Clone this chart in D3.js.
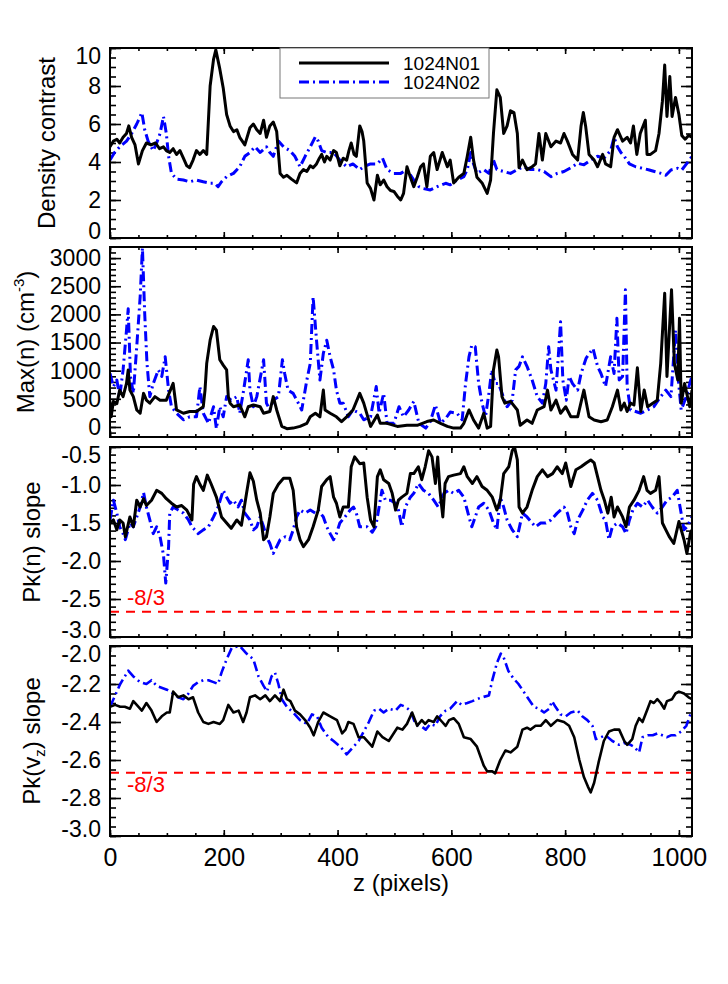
<!DOCTYPE html>
<html><head><meta charset="utf-8">
<script src="https://cdn.jsdelivr.net/npm/d3@7"></script>
<style>body{margin:0;background:#fff} text{font-family:"Liberation Sans",Arial,Helvetica,sans-serif}</style>
</head><body><svg id="c" width="728" height="984"></svg>
<script>
const seriesNames = ["1024N01","1024N02"];
const xTicks = [0,200,400,600,800,1000];
const densityTicks = [0,2,4,6,8,10];
const maxnTicks = [0,500,1000,1500,2000,2500,3000];
const pknTicks = [-3.0,-2.5,-2.0,-1.5,-1.0,-0.5];
const pkvTicks = [-3.0,-2.8,-2.6,-2.4,-2.2,-2.0];
const refSlope = -8/3;
const refLabel = "-8/3";

const density_N01 = [[0,4.8],[6,5.1],[12,5.2],[17,5.0],[23,5.3],[29,5.5],[33,5.9],[38,5.3],[44,4.9],[50,3.9],[57,4.6],[64,5.0],[72,4.9],[80,5.0],[87,4.7],[94,4.8],[99,4.6],[105,4.5],[111,4.7],[117,4.4],[123,4.6],[129,4.2],[135,3.8],[140,3.7],[146,4.1],[152,4.6],[158,4.4],[164,4.6],[170,4.4],[176,8.0],[182,9.4],[186,9.9],[193,8.9],[199,7.9],[205,6.5],[211,5.9],[217,5.6],[223,5.7],[228,5.3],[237,4.9],[246,5.8],[252,6.0],[258,5.7],[264,5.5],[270,6.2],[275,5.3],[281,5.9],[287,6.1],[293,5.6],[299,3.4],[305,3.2],[311,3.3],[319,3.1],[328,2.9],[334,3.4],[340,3.6],[346,3.5],[352,3.8],[357,3.7],[363,3.9],[368,4.2],[372,4.4],[377,4.0],[381,4.3],[387,4.1],[393,4.6],[398,4.5],[404,3.8],[410,4.2],[416,4.1],[420,4.6],[424,5.0],[429,4.4],[433,4.3],[439,5.9],[443,5.6],[446,5.1],[452,2.9],[458,2.6],[464,2.0],[470,3.3],[475,2.8],[481,3.05],[487,2.7],[493,2.5],[499,2.45],[505,2.2],[511,2.0],[516,2.35],[522,3.75],[528,3.2],[534,2.7],[540,3.2],[546,3.75],[551,3.9],[557,2.7],[563,4.3],[569,4.5],[575,3.6],[584,4.5],[593,3.75],[598,4.1],[604,2.9],[613,3.2],[622,3.4],[628,4.3],[634,5.3],[639,4.1],[645,3.2],[654,2.9],[663,2.35],[669,3.05],[674,5.5],[680,7.8],[686,7.4],[692,5.5],[698,5.9],[704,6.7],[710,6.6],[716,5.5],[719,3.7],[725,4.1],[733,3.6],[742,3.75],[748,3.9],[754,5.5],[760,4.1],[766,5.5],[775,4.8],[784,5.1],[792,5.0],[798,5.5],[804,5.1],[813,4.4],[822,4.1],[828,5.9],[832,6.6],[836,5.9],[842,4.4],[851,4.1],[857,3.75],[866,4.4],[871,3.9],[880,3.75],[886,5.3],[892,5.7],[901,5.1],[909,5.3],[915,5.0],[920,5.9],[926,4.4],[932,5.5],[941,6.2],[944,4.4],[950,4.4],[959,4.6],[965,5.5],[971,7.2],[975,9.1],[979,6.4],[984,8.5],[988,6.4],[994,7.4],[1000,6.5],[1005,5.4],[1011,5.2],[1017,5.4],[1023,5.3]];
const density_N02 = [[0,4.1],[8,4.5],[17,4.8],[29,5.1],[38,5.5],[47,6.0],[56,6.6],[61,5.7],[67,5.1],[76,4.6],[82,5.0],[88,5.5],[94,6.4],[99,5.5],[103,4.3],[108,3.4],[117,3.1],[129,3.05],[140,2.96],[152,3.05],[164,2.96],[176,2.88],[184,2.88],[190,2.7],[196,2.96],[205,3.23],[217,3.4],[228,3.75],[237,4.3],[246,4.5],[255,4.8],[264,4.5],[275,4.8],[281,4.5],[287,4.3],[296,5.1],[305,4.8],[316,4.6],[325,4.3],[334,3.75],[343,4.3],[352,4.8],[361,5.33],[366,5.1],[372,4.6],[381,4.5],[393,4.5],[404,4.1],[416,3.75],[427,3.9],[439,3.6],[446,3.75],[458,3.9],[470,3.9],[479,4.2],[487,3.6],[499,3.4],[511,3.4],[522,3.6],[534,3.05],[543,2.7],[551,2.6],[563,2.53],[575,2.7],[590,2.88],[598,2.8],[610,3.05],[622,3.23],[628,3.6],[634,4.5],[639,3.9],[645,3.4],[657,3.6],[666,3.4],[674,4.1],[680,3.6],[692,3.5],[704,3.4],[716,3.6],[727,3.75],[739,3.6],[751,3.6],[763,3.5],[775,3.23],[786,3.4],[798,3.5],[810,3.7],[822,3.93],[833,3.85],[845,4.1],[857,4.3],[868,4.2],[880,4.6],[886,5.3],[892,4.8],[898,4.5],[904,4.3],[913,3.9],[924,3.75],[936,3.67],[948,3.58],[957,3.5],[969,3.4],[977,3.3],[986,3.58],[998,3.67],[1005,3.58],[1014,3.93],[1023,4.3]];

const maxn_N01 = [[0,455],[2,181],[6,455],[12,413],[17,655],[23,539],[29,775],[32,1014],[35,655],[41,539],[47,302],[53,244],[59,597],[64,476],[70,423],[79,539],[88,476],[99,476],[111,775],[117,302],[129,244],[140,275],[152,275],[164,360],[167,655],[170,1130],[176,1541],[182,1784],[187,1720],[193,1193],[199,1098],[205,1014],[208,539],[211,423],[217,360],[228,391],[237,181],[243,360],[252,391],[264,360],[270,244],[281,275],[287,539],[293,302],[302,10],[311,-30],[322,-20],[334,10],[346,65],[352,181],[361,244],[369,181],[375,655],[378,302],[387,244],[398,181],[407,96],[416,181],[427,302],[439,597],[446,423],[458,10],[470,212],[475,65],[487,65],[505,10],[522,30],[540,30],[557,96],[569,124],[581,65],[593,10],[604,-20],[616,-20],[622,65],[631,302],[639,124],[648,-20],[657,244],[663,-20],[669,10],[674,1014],[680,1367],[683,1246],[689,539],[694,423],[704,455],[716,302],[721,30],[733,124],[742,65],[751,302],[763,361],[769,655],[775,302],[784,476],[792,244],[801,360],[810,181],[822,181],[833,655],[842,181],[851,124],[863,94],[874,124],[883,360],[892,655],[898,302],[904,423],[909,275],[915,423],[921,391],[927,1051],[933,275],[939,655],[945,360],[954,423],[962,476],[968,1130],[975,2374],[979,898],[987,2437],[992,1130],[998,834],[1001,1931],[1004,423],[1010,771],[1019,360],[1023,655]];
const maxn_N02 = [[0,950],[6,718],[12,834],[17,539],[23,1014],[29,1720],[32,2100],[36,898],[41,597],[47,1425],[53,2311],[57,3180],[61,2016],[65,1130],[70,539],[76,771],[85,1014],[91,898],[97,1246],[103,655],[108,360],[117,244],[129,128],[140,181],[152,181],[158,718],[164,244],[173,65],[182,360],[187,-30],[193,360],[199,181],[205,539],[213,476],[223,539],[228,244],[234,597],[243,1193],[246,655],[252,360],[258,539],[270,1193],[275,423],[281,302],[287,476],[296,539],[303,1193],[307,950],[313,655],[322,597],[331,423],[337,302],[346,834],[352,1130],[357,2311],[363,1541],[369,834],[375,1309],[381,1541],[387,1246],[393,1014],[398,655],[404,423],[410,423],[419,181],[427,302],[439,244],[446,128],[458,181],[468,718],[473,244],[481,597],[487,65],[499,65],[508,360],[516,181],[525,302],[534,455],[543,65],[555,-20],[563,96],[572,391],[581,65],[590,149],[598,265],[610,244],[619,128],[625,771],[631,1246],[636,1457],[642,1425],[648,771],[654,423],[660,181],[666,597],[671,1014],[677,771],[683,771],[689,597],[698,360],[707,476],[713,1014],[719,1077],[725,1246],[733,1077],[742,834],[751,539],[760,423],[766,771],[771,1425],[775,1014],[784,655],[792,1868],[796,834],[802,476],[807,898],[813,771],[822,655],[828,950],[837,1225],[849,1393],[857,1077],[863,950],[871,718],[880,1246],[886,950],[891,1931],[895,834],[901,898],[906,2437],[909,718],[915,302],[924,275],[933,244],[945,302],[956,360],[968,539],[977,655],[986,539],[994,1720],[999,834],[1004,302],[1013,539],[1019,771],[1023,898]];

const pkn_N01 = [[0,-1.50],[6,-1.46],[12,-1.59],[17,-1.46],[23,-1.50],[27,-1.68],[35,-1.42],[41,-1.55],[47,-1.20],[53,-1.29],[59,-1.18],[64,-1.27],[73,-1.20],[82,-1.07],[91,-1.11],[99,-1.18],[108,-1.24],[117,-1.29],[126,-1.27],[135,-1.33],[144,-1.46],[147,-0.99],[152,-0.89],[158,-0.99],[164,-1.07],[171,-0.87],[178,-0.99],[187,-1.16],[196,-1.42],[205,-1.50],[213,-1.57],[223,-1.46],[231,-1.53],[240,-1.11],[246,-0.84],[252,-0.95],[258,-1.20],[264,-1.37],[270,-1.72],[275,-1.68],[281,-1.42],[287,-1.11],[296,-0.99],[305,-0.91],[316,-0.91],[322,-1.07],[328,-1.55],[334,-1.72],[340,-1.81],[349,-1.72],[357,-1.55],[366,-1.33],[372,-1.02],[381,-0.93],[387,-0.89],[393,-1.16],[398,-1.24],[404,-1.42],[410,-1.29],[419,-1.29],[424,-0.76],[430,-0.63],[439,-0.72],[446,-0.71],[452,-1.16],[458,-1.46],[464,-1.55],[470,-0.89],[475,-0.80],[481,-0.93],[490,-0.98],[496,-1.11],[502,-1.33],[507,-1.20],[513,-1.16],[522,-1.11],[528,-0.85],[534,-0.85],[542,-0.76],[548,-0.93],[554,-0.76],[560,-0.55],[566,-0.63],[572,-0.98],[576,-0.63],[580,-1.07],[585,-1.42],[589,-0.98],[595,-0.89],[604,-0.87],[616,-0.85],[622,-0.76],[628,-0.89],[637,-0.98],[645,-0.89],[654,-1.02],[663,-1.07],[672,-1.16],[680,-1.33],[686,-1.20],[692,-0.85],[701,-0.76],[707,-0.55],[711,-0.50],[716,-0.67],[719,-1.29],[725,-1.37],[733,-1.29],[742,-1.07],[751,-0.89],[760,-0.80],[769,-0.89],[778,-0.85],[786,-0.76],[795,-0.85],[801,-0.71],[810,-1.02],[819,-0.80],[828,-0.76],[837,-0.71],[845,-0.67],[851,-0.71],[857,-0.89],[863,-1.07],[869,-1.20],[875,-1.37],[881,-1.16],[886,-1.42],[892,-1.29],[901,-1.42],[907,-1.55],[913,-1.29],[921,-1.20],[930,-1.07],[938,-0.89],[944,-1.07],[950,-1.11],[959,-1.07],[965,-0.89],[971,-1.50],[977,-1.59],[983,-1.68],[991,-1.77],[1000,-1.48],[1009,-1.72],[1014,-1.90],[1020,-1.64],[1023,-1.59]];
const pkn_N02 = [[0,-1.46],[6,-1.20],[12,-1.37],[17,-1.55],[23,-1.64],[27,-1.72],[35,-1.50],[41,-1.55],[47,-1.42],[53,-1.29],[59,-1.10],[64,-1.29],[70,-1.46],[76,-1.64],[82,-1.55],[88,-1.68],[94,-1.92],[98,-2.29],[103,-1.81],[105,-1.37],[111,-1.29],[120,-1.33],[129,-1.37],[138,-1.46],[144,-1.55],[155,-1.64],[164,-1.59],[173,-1.55],[182,-1.42],[190,-1.29],[199,-1.07],[205,-1.16],[211,-1.24],[217,-1.20],[225,-1.29],[231,-1.20],[237,-1.37],[246,-1.46],[252,-1.59],[258,-1.55],[264,-1.42],[270,-1.55],[275,-1.68],[281,-1.77],[287,-1.90],[293,-1.81],[299,-1.72],[308,-1.68],[316,-1.72],[322,-1.59],[328,-1.42],[334,-1.33],[343,-1.37],[352,-1.33],[361,-1.37],[366,-1.33],[375,-1.42],[381,-1.55],[387,-1.64],[393,-1.72],[398,-1.64],[404,-1.50],[413,-1.42],[422,-1.33],[428,-1.29],[433,-1.37],[439,-1.55],[446,-1.55],[452,-1.55],[461,-1.62],[467,-1.55],[473,-1.29],[478,-1.07],[484,-1.20],[493,-1.20],[502,-1.24],[507,-1.33],[513,-1.55],[519,-1.29],[528,-1.16],[534,-1.11],[542,-0.98],[551,-1.07],[560,-1.11],[569,-1.20],[577,-1.29],[587,-1.11],[595,-1.07],[604,-1.11],[613,-1.07],[622,-1.16],[631,-1.42],[636,-1.55],[642,-1.42],[648,-1.29],[657,-1.24],[666,-1.33],[674,-1.50],[680,-1.59],[686,-1.16],[692,-1.29],[698,-1.46],[707,-1.59],[716,-1.68],[725,-1.37],[733,-1.42],[742,-1.50],[748,-1.55],[757,-1.50],[766,-1.50],[775,-1.46],[786,-1.37],[798,-1.29],[804,-1.37],[810,-1.55],[816,-1.64],[822,-1.46],[831,-1.33],[839,-1.20],[848,-1.11],[857,-1.20],[866,-1.42],[871,-1.46],[877,-1.72],[883,-1.55],[892,-1.50],[901,-1.55],[907,-1.64],[913,-1.46],[919,-1.33],[927,-1.24],[936,-1.29],[945,-1.20],[953,-1.29],[962,-1.37],[971,-1.29],[979,-1.20],[988,-1.16],[997,-1.07],[1002,-1.29],[1009,-1.59],[1014,-1.55],[1023,-1.42]];

const pkv_N01 = [[0,-2.32],[9,-2.31],[18,-2.32],[26,-2.32],[35,-2.33],[41,-2.29],[47,-2.31],[56,-2.34],[64,-2.30],[73,-2.34],[82,-2.40],[91,-2.37],[100,-2.35],[105,-2.35],[111,-2.24],[120,-2.27],[129,-2.26],[138,-2.28],[146,-2.27],[155,-2.35],[164,-2.40],[173,-2.41],[182,-2.40],[193,-2.41],[199,-2.39],[208,-2.31],[217,-2.35],[226,-2.34],[234,-2.40],[240,-2.35],[246,-2.27],[255,-2.26],[264,-2.28],[273,-2.26],[281,-2.29],[290,-2.26],[299,-2.29],[305,-2.23],[311,-2.28],[317,-2.29],[325,-2.34],[334,-2.36],[343,-2.39],[352,-2.43],[358,-2.47],[366,-2.40],[375,-2.35],[387,-2.37],[399,-2.39],[408,-2.46],[414,-2.44],[419,-2.40],[428,-2.41],[437,-2.48],[446,-2.48],[461,-2.53],[470,-2.45],[479,-2.48],[490,-2.50],[505,-2.43],[514,-2.44],[522,-2.41],[531,-2.35],[540,-2.42],[548,-2.39],[554,-2.41],[560,-2.39],[569,-2.40],[575,-2.37],[584,-2.40],[590,-2.42],[596,-2.39],[604,-2.38],[613,-2.41],[622,-2.48],[634,-2.49],[645,-2.53],[657,-2.63],[663,-2.66],[672,-2.66],[677,-2.67],[686,-2.60],[695,-2.55],[704,-2.56],[716,-2.53],[725,-2.44],[733,-2.43],[739,-2.44],[748,-2.42],[757,-2.42],[766,-2.39],[775,-2.42],[786,-2.39],[798,-2.40],[807,-2.42],[816,-2.48],[825,-2.60],[833,-2.69],[840,-2.74],[845,-2.77],[851,-2.72],[859,-2.61],[868,-2.50],[877,-2.45],[886,-2.44],[895,-2.44],[904,-2.50],[909,-2.52],[918,-2.49],[924,-2.42],[930,-2.38],[936,-2.40],[945,-2.33],[950,-2.29],[956,-2.30],[962,-2.28],[968,-2.30],[974,-2.33],[979,-2.29],[988,-2.28],[994,-2.25],[1000,-2.24],[1009,-2.25],[1017,-2.27],[1023,-2.28]];
const pkv_N02 = [[0,-2.32],[9,-2.26],[18,-2.20],[26,-2.16],[32,-2.13],[41,-2.16],[53,-2.19],[64,-2.20],[73,-2.18],[82,-2.21],[100,-2.23],[111,-2.25],[120,-2.27],[129,-2.28],[138,-2.25],[146,-2.21],[155,-2.19],[164,-2.18],[173,-2.18],[182,-2.19],[190,-2.20],[196,-2.14],[205,-2.07],[214,-2.01],[228,-2.00],[240,-2.04],[252,-2.07],[261,-2.16],[270,-2.21],[276,-2.24],[284,-2.16],[290,-2.14],[296,-2.20],[302,-2.28],[311,-2.32],[322,-2.35],[334,-2.39],[346,-2.41],[355,-2.36],[364,-2.37],[372,-2.43],[384,-2.48],[393,-2.50],[405,-2.53],[416,-2.57],[428,-2.53],[437,-2.50],[446,-2.45],[455,-2.40],[464,-2.34],[473,-2.33],[481,-2.35],[490,-2.33],[502,-2.34],[511,-2.31],[519,-2.32],[528,-2.34],[537,-2.41],[546,-2.42],[555,-2.44],[563,-2.41],[572,-2.42],[580,-2.37],[590,-2.34],[598,-2.33],[610,-2.29],[618,-2.31],[628,-2.30],[637,-2.29],[645,-2.28],[654,-2.27],[666,-2.26],[672,-2.18],[680,-2.09],[687,-2.04],[692,-2.06],[700,-2.13],[709,-2.17],[718,-2.20],[727,-2.24],[736,-2.28],[745,-2.32],[754,-2.33],[763,-2.35],[772,-2.33],[777,-2.29],[783,-2.32],[792,-2.36],[801,-2.37],[810,-2.35],[822,-2.34],[830,-2.37],[839,-2.39],[848,-2.42],[854,-2.49],[863,-2.48],[871,-2.47],[883,-2.50],[895,-2.52],[904,-2.51],[915,-2.52],[921,-2.53],[930,-2.56],[936,-2.48],[945,-2.47],[954,-2.47],[962,-2.46],[971,-2.47],[979,-2.48],[986,-2.47],[994,-2.47],[1004,-2.45],[1013,-2.42],[1019,-2.37],[1023,-2.34]];

const svg = d3.select("#c");
const FONT = '"Liberation Sans", Arial, Helvetica, sans-serif';
const X0 = 110, X1 = 692;
const x = d3.scaleLinear().domain([0, 1023]).range([X0, X1]);
const xMinor = d3.range(0, 1024, 50);
const BLUE_DASH = "10,4,2,4";

const panels = [
  {top:48, bot:238, dom:[0,10], ticks:densityTicks, minor:d3.range(0,10.001,0.5), fmt:d=>String(d), s:[density_N01,density_N02], lw:3,
   title:[{t:"Density contrast"}], tx:55},
  {top:247, bot:437, dom:[-178,3197], ticks:maxnTicks, minor:d3.range(-100,3197,100), fmt:d=>String(d), s:[maxn_N01,maxn_N02], lw:3,
   title:[{t:"Max(n) (cm"},{t:"-3",sup:true},{t:")"}], tx:34},
  {top:447, bot:637, dom:[-3,-0.5], ticks:pknTicks, minor:d3.range(-3,-0.499,0.1), fmt:d=>d.toFixed(1), s:[pkn_N01,pkn_N02], lw:3,
   title:[{t:"Pk(n) slope"}], tx:40, ref:true, refY:605},
  {top:646, bot:836, dom:[-3,-2], ticks:pkvTicks, minor:d3.range(-3,-1.999,0.05), fmt:d=>d.toFixed(1), s:[pkv_N01,pkv_N02], lw:2.6,
   title:[{t:"Pk(v"},{t:"z",sub:true},{t:") slope"}], tx:40, ref:true, refY:792}
];

panels.forEach((p, i) => {
  const y = d3.scaleLinear().domain(p.dom).range([p.bot, p.top]);
  const g = svg.append("g");
  const cid = "clip" + i;
  svg.append("clipPath").attr("id", cid).append("rect")
    .attr("x", X0).attr("y", p.top).attr("width", X1 - X0).attr("height", p.bot - p.top);

  const styleAxis = s => { s.select(".domain").remove(); s.selectAll("line").attr("stroke-width", 1.6); };
  g.append("g").attr("transform", `translate(${X0},0)`)
    .call(d3.axisLeft(y).tickValues(p.minor).tickSize(-6).tickFormat("")).call(styleAxis);
  g.append("g").attr("transform", `translate(${X1},0)`)
    .call(d3.axisRight(y).tickValues(p.minor).tickSize(-6).tickFormat("")).call(styleAxis);
  const la = g.append("g").attr("transform", `translate(${X0},0)`)
    .call(d3.axisLeft(y).tickValues(p.ticks).tickSize(-11).tickPadding(9).tickFormat(p.fmt)).call(styleAxis);
  la.attr("font-family", FONT).attr("font-size", 23);
  la.selectAll(".tick text").attr("fill", "#000")
    .attr("y", d => { const ty = y(d); const ny = Math.max(p.top + 8, Math.min(p.bot - 7, ty)); return ny - ty; });
  g.append("g").attr("transform", `translate(${X1},0)`)
    .call(d3.axisRight(y).tickValues(p.ticks).tickSize(-11).tickFormat("")).call(styleAxis);
  g.append("g").attr("transform", `translate(0,${p.top})`)
    .call(d3.axisTop(x).tickValues(xMinor).tickSize(-3).tickFormat("")).call(styleAxis);
  g.append("g").attr("transform", `translate(0,${p.top})`)
    .call(d3.axisTop(x).tickValues(xTicks).tickSize(-6).tickFormat("")).call(styleAxis);
  g.append("g").attr("transform", `translate(0,${p.bot})`)
    .call(d3.axisBottom(x).tickValues(xMinor).tickSize(-3).tickFormat("")).call(styleAxis);
  const bx = g.append("g").attr("transform", `translate(0,${p.bot})`)
    .call(d3.axisBottom(x).tickValues(xTicks).tickSize(-6).tickPadding(12)
      .tickFormat(i === panels.length - 1 ? d => String(d) : "")).call(styleAxis);
  bx.attr("font-family", FONT).attr("font-size", 25);
  bx.selectAll(".tick text").attr("fill", "#000");

  if (p.ref) {
    g.append("line").attr("x1", X0).attr("x2", X1).attr("y1", y(refSlope)).attr("y2", y(refSlope))
      .attr("stroke", "#ff0000").attr("stroke-width", 2).attr("stroke-dasharray", "9,7");
    g.append("text").attr("x", 127).attr("y", p.refY).attr("fill", "#ff0000")
      .attr("font-family", FONT).attr("font-size", 22).text(refLabel);
  }

  const line = d3.line().x(d => x(d[0])).y(d => y(d[1]));
  const dg = g.append("g").attr("clip-path", `url(#${cid})`);
  dg.append("path").datum(p.s[1]).attr("d", line).attr("fill", "none")
    .attr("stroke", "#0000ff").attr("stroke-width", p.lw).attr("stroke-dasharray", BLUE_DASH).attr("stroke-linejoin", "round");
  dg.append("path").datum(p.s[0]).attr("d", line).attr("fill", "none")
    .attr("stroke", "#000").attr("stroke-width", p.lw).attr("stroke-linejoin", "round");

  g.append("rect").attr("x", X0).attr("y", p.top).attr("width", X1 - X0).attr("height", p.bot - p.top)
    .attr("fill", "none").attr("stroke", "#000").attr("stroke-width", 2);

  const cy = (p.top + p.bot) / 2;
  const t = svg.append("text").attr("transform", `translate(${p.tx},${cy}) rotate(-90)`)
    .attr("text-anchor", "middle").attr("font-family", FONT).attr("font-size", 24).attr("fill", "#000");
  p.title.forEach((part, k) => {
    const ts = t.append("tspan").text(part.t);
    if (part.sup) ts.attr("font-size", 15).attr("dy", -10);
    else if (part.sub) ts.attr("font-size", 15).attr("dy", 5);
    else if (k > 0 && p.title[k-1].sup) ts.attr("dy", 10);
    else if (k > 0 && p.title[k-1].sub) ts.attr("dy", -5);
  });
});

const lg = svg.append("g");
lg.append("rect").attr("x", 280).attr("y", 48).attr("width", 209).attr("height", 50)
  .attr("fill", "#fff").attr("stroke", "#777").attr("stroke-width", 1);
[0, 1].forEach(k => {
  const ly = 63 + k * 19;
  lg.append("line").attr("x1", 299).attr("x2", 389).attr("y1", ly).attr("y2", ly)
    .attr("stroke", k ? "#0000ff" : "#000").attr("stroke-width", 3)
    .attr("stroke-dasharray", k ? BLUE_DASH : null);
  lg.append("text").attr("x", 403).attr("y", ly + 7).attr("font-family", FONT).attr("font-size", 19)
    .attr("fill", "#000").text(seriesNames[k]);
});

svg.append("text").attr("x", (X0 + X1) / 2).attr("y", 891).attr("text-anchor", "middle")
  .attr("font-family", FONT).attr("font-size", 24).attr("fill", "#000").text("z (pixels)");
</script></body></html>
